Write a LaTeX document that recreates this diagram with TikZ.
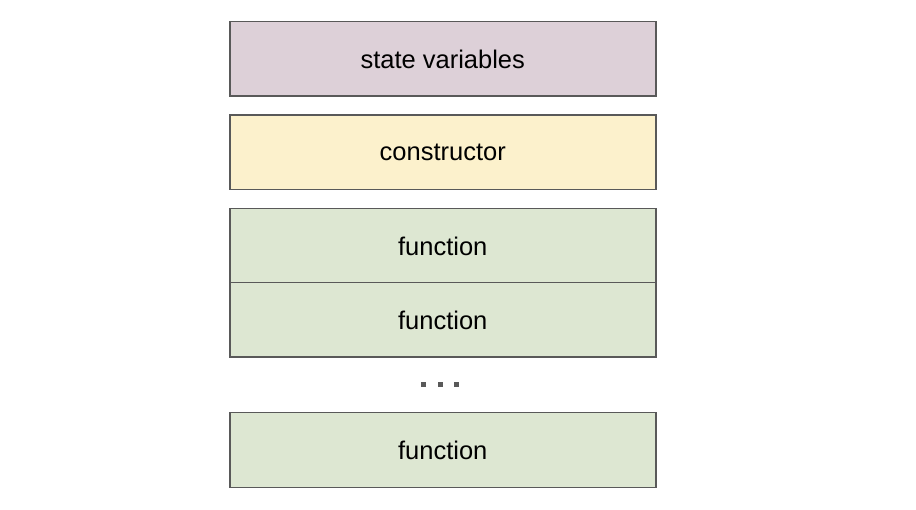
\documentclass[tikz,border=0pt]{standalone}
\usepackage{fontspec}
\setmainfont{Liberation Sans}
\definecolor{cpurple}{HTML}{DDD0D8}
\definecolor{cyellow}{HTML}{FCF1CC}
\definecolor{cgreen}{HTML}{DDE7D2}
\definecolor{cborder}{HTML}{595959}
\begin{document}
\begin{tikzpicture}[x=1pt,y=-1pt,
  blk/.style={draw=cborder,line width=1.5pt,minimum width=426pt,minimum height=74.5pt,inner sep=0pt,font=\fontsize{25.5}{29}\selectfont,anchor=north west},
  dotsq/.style={fill=cborder,minimum size=5pt,inner sep=0pt}]
\useasboundingbox (0,0) rectangle (916,510);
\fill[white] (0,0) rectangle (916,510);
\node[blk,fill=cpurple] (sv) at (229,21) {state variables};
\node[blk,fill=cyellow] (ct) at (229,114.5) {constructor};
\node[blk,fill=cgreen] (f1) at (229,208) {function};
\node[blk,fill=cgreen] (f2) at (229,282) {function};
\node[blk,fill=cgreen] (f3) at (229,412) {function};
\node[dotsq] (d1) at (423.5,384.5) {};
\node[dotsq] (d2) at (440,384.5) {};
\node[dotsq] (d3) at (456.5,384.5) {};
\end{tikzpicture}
\end{document}
